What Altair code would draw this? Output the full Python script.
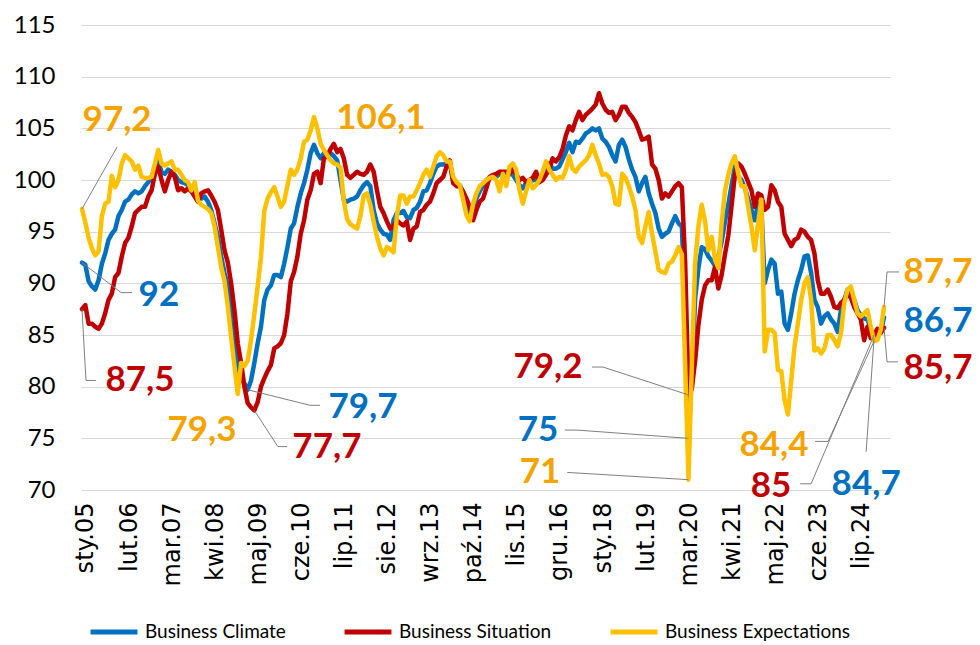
import altair as alt
import pandas as pd

# ---------------- data (monthly, Jan 2005 - Mar 2025) ----------------
climate = [
    92.0, 91.8, 90.2, 89.7, 89.4, 90.3, 91.9, 92.9, 94.2, 94.8, 95.2, 96.5,
    97.1, 97.9, 98.1, 98.6, 98.9, 98.7, 98.9, 99.4, 99.8, 100.3, 101.3, 101.8,
    100.8, 100.6, 101.0, 100.8, 100.5, 100.0, 99.8, 99.7, 99.5, 99.2, 98.7, 98.2,
    98.2, 98.4, 97.9, 97.1, 95.8, 94.5, 92.6, 91.0, 89.7, 87.0, 84.5, 82.0,
    80.8, 80.3, 79.7, 80.6, 82.3, 84.2, 85.8, 88.4, 89.4, 89.8, 90.8, 90.8,
    90.6, 91.9, 93.5, 95.3, 95.8, 97.4, 98.7, 99.7, 101.0, 102.6, 103.4, 102.6,
    102.1, 102.6, 102.3, 102.6, 102.3, 101.9, 100.0, 98.1, 97.9, 98.1, 98.2, 98.4,
    99.0, 99.5, 99.8, 99.4, 97.1, 95.8, 95.2, 94.8, 94.7, 94.2, 96.1, 96.8,
    96.8, 97.0, 96.4, 96.3, 97.1, 97.3, 97.9, 98.9, 99.0, 99.7, 100.6, 101.3,
    101.5, 101.5, 101.6, 101.6, 100.0, 99.7, 99.5, 98.7, 97.7, 96.3, 97.4, 98.2,
    98.9, 99.5, 100.0, 100.2, 100.3, 100.3, 100.6, 100.6, 100.5, 100.6, 100.5, 100.0,
    99.5, 99.2, 99.7, 99.7, 100.0, 100.0, 99.8, 100.3, 101.0, 101.6, 101.1, 101.1,
    101.3, 102.0, 102.7, 103.6, 102.7, 103.7, 103.6, 104.0, 104.5, 104.7, 105.0, 104.8,
    105.0, 104.0, 103.7, 103.2, 102.4, 101.8, 103.4, 103.9, 103.2, 102.0, 101.0, 100.3,
    98.9, 99.7, 100.3, 98.7, 97.7, 96.8, 95.3, 94.5, 94.8, 95.0, 95.8, 96.5,
    95.8, 95.5, 87.0, 75.0, 81.0, 88.5, 91.5, 93.5, 93.3, 92.6, 92.2, 91.7,
    92.6, 94.0, 96.0, 97.6, 99.5, 101.3, 100.3, 100.0, 99.2, 98.2, 97.1, 96.1,
    97.7, 97.4, 90.0, 91.3, 92.3, 91.9, 89.0, 89.2, 86.1, 85.5, 87.1, 89.0,
    90.3, 91.3, 92.6, 92.7, 91.0, 88.4, 87.7, 86.1, 86.8, 87.1, 86.5, 86.1,
    85.3, 87.4, 88.4, 89.4, 89.2, 88.4, 87.4, 86.9, 86.6, 86.5, 85.6, 84.7,
    85.2, 85.3, 86.7,
]

situation = [
    87.5, 87.9, 86.1, 86.1, 85.8, 85.6, 86.1, 87.1, 88.4, 89.0, 90.6, 91.0,
    92.6, 93.9, 94.4, 95.5, 96.8, 97.1, 97.4, 97.4, 98.4, 99.0, 100.6, 101.3,
    100.0, 98.9, 100.0, 100.8, 100.3, 99.0, 99.2, 98.9, 99.2, 98.9, 98.4, 97.9,
    98.7, 98.9, 99.0, 98.5, 97.9, 97.1, 95.2, 93.2, 92.0, 90.0, 87.4, 84.2,
    82.3, 80.0, 78.4, 78.0, 77.7, 78.5, 80.0, 80.8, 81.5, 82.1, 83.7, 83.9,
    84.2, 85.0, 87.1, 90.2, 91.1, 92.6, 94.8, 96.1, 98.1, 99.0, 100.6, 100.8,
    99.7, 102.1, 102.3, 103.0, 103.5, 102.7, 103.0, 102.1, 100.5, 100.2, 100.5, 100.8,
    100.6, 100.5, 100.8, 101.5, 100.8, 99.0, 97.4, 96.8, 96.0, 95.3, 95.5, 96.1,
    95.8, 95.6, 96.0, 94.2, 95.3, 95.5, 96.9, 97.1, 97.6, 97.9, 98.7, 99.7,
    100.0, 100.3, 101.3, 101.9, 99.7, 99.4, 99.4, 98.9, 98.2, 97.4, 96.1, 97.1,
    97.9, 98.2, 99.2, 100.3, 100.5, 100.6, 100.8, 100.8, 100.8, 100.6, 101.1, 100.6,
    100.0, 100.2, 99.8, 100.0, 100.2, 100.8, 99.8, 100.0, 100.5, 101.1, 102.1, 101.8,
    102.2, 103.0, 104.3, 105.2, 104.8, 105.8, 106.6, 105.8, 106.3, 106.6, 106.9, 107.3,
    108.4, 107.4, 106.8, 106.5, 106.6, 105.8, 106.3, 107.1, 107.1, 106.5, 106.1, 105.6,
    104.8, 103.9, 104.0, 104.2, 101.5, 101.1, 100.0, 98.2, 98.7, 98.4, 98.9, 99.4,
    99.7, 99.3, 92.0, 79.2, 79.8, 82.5, 86.0, 88.4, 89.8, 90.3, 90.3, 91.6,
    89.5, 90.8, 92.8, 94.6, 97.5, 100.5, 101.6, 101.3, 100.6, 99.8, 99.0, 97.4,
    98.7, 98.5, 97.1, 97.4, 99.5, 99.0, 97.9, 97.4, 94.8, 94.2, 93.6, 94.2,
    94.4, 95.2, 95.0, 94.5, 94.2, 92.9, 90.3, 89.0, 89.0, 89.4, 88.7, 87.7,
    87.6, 88.1, 88.4, 89.0, 88.6, 87.7, 87.1, 86.5, 84.5, 85.8, 84.7, 85.0,
    85.6, 85.2, 85.7,
]

expectations = [
    97.2, 95.9, 94.4, 93.4, 92.7, 93.1, 96.5, 97.7, 97.9, 100.4, 99.3, 100.0,
    101.6, 102.4, 102.1, 101.8, 101.0, 101.4, 100.3, 100.2, 100.2, 100.3, 101.6, 102.9,
    101.6, 101.4, 101.6, 101.8, 101.0, 101.0, 100.5, 100.0, 99.8, 99.0, 99.8, 98.0,
    97.6, 97.4, 97.2, 96.8, 95.5, 93.5, 91.6, 90.2, 87.8, 84.8, 82.0, 79.3,
    82.3, 82.0, 82.5, 84.5, 87.0, 89.7, 92.5, 97.0, 98.2, 98.8, 99.3, 98.4,
    97.4, 97.9, 99.5, 101.0, 100.5, 101.0, 102.1, 103.7, 103.9, 104.8, 106.1, 105.0,
    103.5, 102.9, 102.4, 101.9, 101.6, 101.5, 101.2, 98.0, 96.2, 95.7, 95.5, 95.3,
    96.5, 98.5, 98.7, 97.6, 96.0, 94.5, 93.4, 92.7, 93.5, 93.3, 93.0, 96.5,
    98.5, 98.5, 97.7, 98.4, 98.4, 99.0, 99.7, 100.5, 101.0, 100.3, 101.3, 102.3,
    102.7, 102.4, 101.8, 101.8, 100.3, 99.8, 99.5, 98.1, 96.6, 96.0, 97.7, 98.7,
    99.4, 99.7, 100.0, 100.2, 100.3, 100.0, 98.9, 100.6, 99.4, 101.3, 101.6, 101.0,
    99.0, 97.7, 98.9, 100.0, 99.2, 99.5, 100.0, 100.8, 101.8, 101.0, 100.5, 100.0,
    100.3, 100.2, 101.0, 102.3, 101.1, 100.8, 101.3, 101.6, 101.9, 102.4, 103.4, 102.4,
    101.6, 100.5, 100.6, 100.3, 99.4, 97.7, 97.6, 100.6, 100.2, 99.4, 98.4, 97.1,
    94.5, 93.9, 95.5, 96.9, 94.8, 93.1, 91.3, 91.1, 91.0, 91.9, 92.1, 92.7,
    93.5, 92.8, 82.0, 71.0, 82.0, 92.0, 95.5, 97.6, 96.0, 93.2, 94.5, 92.3,
    91.5, 95.8, 98.9, 100.5, 101.6, 102.3, 100.6, 99.4, 99.4, 97.4, 95.5, 93.2,
    95.8, 98.1, 83.4, 85.5, 85.5, 85.2, 81.6, 81.5, 78.7, 77.3, 80.6, 83.9,
    86.1, 88.4, 90.0, 90.6, 88.4, 83.5, 83.7, 83.2, 83.7, 85.0, 85.0, 84.5,
    83.9, 85.2, 88.1, 89.4, 89.7, 88.4, 87.1, 86.8, 87.1, 87.4, 85.8, 84.4,
    84.5, 85.5, 87.7,
]

series_names = ["Business Climate", "Business Situation", "Business Expectations"]
month_abbr = ["sty", "lut", "mar", "kwi", "maj", "cze", "lip", "sie", "wrz", "paź", "lis", "gru"]
n = len(climate)
tick_idx = list(range(0, n, 13))
tick_labels = [f"{month_abbr[i % 12]}.{5 + i // 12:02d}" for i in tick_idx]

# annotation labels (position in data units: month index, index value)
ann_labels = ["97,2", "92", "87,5", "79,3", "79,7", "77,7", "106,1", "79,2", "75", "71",
              "87,7", "86,7", "85,7", "84,4", "85", "84,7"]
ann_t = [10.6, 23.2, 17.5, 36.2, 84.8, 73.9, 90.2, 140.6, 137.6, 138.2,
         258.3, 258.3, 258.3, 208.8, 207.9, 236.6]
ann_v = [105.8, 88.9, 80.6, 75.8, 78.0, 74.2, 106.0, 81.9, 75.8, 71.7,
         91.1, 86.4, 81.8, 74.4, 70.4, 70.6]
ann_series = ["E", "C", "S", "E", "C", "S", "E", "S", "C", "E",
              "E", "C", "S", "E", "S", "C"]

# leader lines: id, month index, value
lead_id = [1, 1, 2, 2, 2, 3, 3, 3, 4, 4, 4, 5, 5, 5, 6, 6, 6, 7, 7, 7, 8, 8,
           9, 9, 9, 10, 10, 10, 11, 11, 11, 12, 12, 12, 13, 13]
lead_t = [0, 10.6, 0, 11.8, 15.1, 0, 1.2, 4.2, 50, 68.8, 71.8, 52, 59.1, 61.9,
          183, 157.2, 153.9, 183, 149.4, 145.7, 183, 146.4,
          242, 242.9, 246.5, 242, 242.9, 246.2, 239, 225.1, 221.2, 239, 220.0, 216.7,
          239, 236.6]
lead_v = [97.2, 103.2, 92.0, 89.1, 89.1, 87.5, 80.6, 80.6, 79.7, 78.2, 78.2, 77.7, 74.2, 74.2,
          79.2, 81.9, 81.9, 75.0, 75.8, 75.8, 71.0, 71.7,
          87.7, 91.1, 91.1, 85.7, 82.4, 82.4, 84.4, 74.7, 74.7, 85.0, 70.6, 70.6,
          84.7, 73.7]

# ---------------- build tables ----------------
BLUE, RED, YELLOW = "#0070C0", "#C00000", "#FFC000"
TXT = {"C": "#0070C0", "S": "#C00000", "E": "#F5A300"}

df = pd.DataFrame({
    "t": list(range(n)) * 3,
    "value": climate + situation + expectations,
    "series": [series_names[0]] * n + [series_names[1]] * n + [series_names[2]] * n,
})
ann = pd.DataFrame({"t": ann_t, "value": ann_v, "label": ann_labels,
                    "col": [TXT[s] for s in ann_series]})
lead = pd.DataFrame({"id": lead_id, "t": lead_t, "value": lead_v,
                     "ord": list(range(len(lead_id)))})

js_labels = "[" + ",".join("'" + s + "'" for s in tick_labels) + "]"
xscale = alt.Scale(domain=[-0.3, 243.8], nice=False, zero=False)
yscale = alt.Scale(domain=[70, 115], nice=False, zero=False)
xaxis = alt.Axis(values=tick_idx, labelExpr=js_labels + "[round(datum.value/13)]",
                 labelAngle=-90, grid=False, ticks=False, domain=False, title=None,
                 labelFont="DejaVu Sans", labelFontSize=24, labelColor="#000000",
                 labelPadding=12, labelOffset=4, labelOverlap=False, labelFlush=False)
yaxis = alt.Axis(values=list(range(70, 116, 5)), grid=True, gridColor="#D9D9D9",
                 gridWidth=1.2, ticks=False, domain=False, title=None,
                 labelFont="Lato", labelFontSize=24, labelColor="#000000",
                 labelPadding=26)
legend = alt.Legend(title=None, orient="none", legendX=7, legendY=581,
                    direction="horizontal", symbolType="stroke", symbolStrokeWidth=5,
                    symbolSize=2200, labelFont="Lato", labelFontSize=19,
                    labelColor="#000000", columnPadding=48, labelOffset=5,
                    labelLimit=400)
cscale = alt.Scale(domain=series_names, range=[BLUE, RED, YELLOW])

X = alt.X("t:Q", scale=xscale, axis=xaxis)
Y = alt.Y("value:Q", scale=yscale, axis=yaxis)

layers = []
for name in series_names:
    layers.append(
        alt.Chart(df).transform_filter(alt.datum.series == name)
        .mark_line(strokeWidth=4.5, strokeJoin="round", strokeCap="round")
        .encode(x=X, y=Y, color=alt.Color("series:N", scale=cscale, legend=legend))
    )

leaders = alt.Chart(lead).mark_line(color="#7F7F7F", strokeWidth=1).encode(
    x=X, y=Y, detail="id:N", order="ord:Q")

texts = alt.Chart(ann).mark_text(font="Lato", fontSize=35, fontWeight="bold",
                                 align="center", baseline="middle").encode(
    x=X, y=Y, text="label:N", color=alt.Color("col:N", scale=None))

chart = alt.layer(*layers, leaders, texts).properties(
    width=809, height=465,
    padding={"left": 73, "top": 17, "right": 82, "bottom": 154},
    autosize=alt.AutoSizeParams(type="none"),
).configure_view(strokeWidth=0)

chart.save("out.html", embed_options={"renderer": "svg", "actions": False})
